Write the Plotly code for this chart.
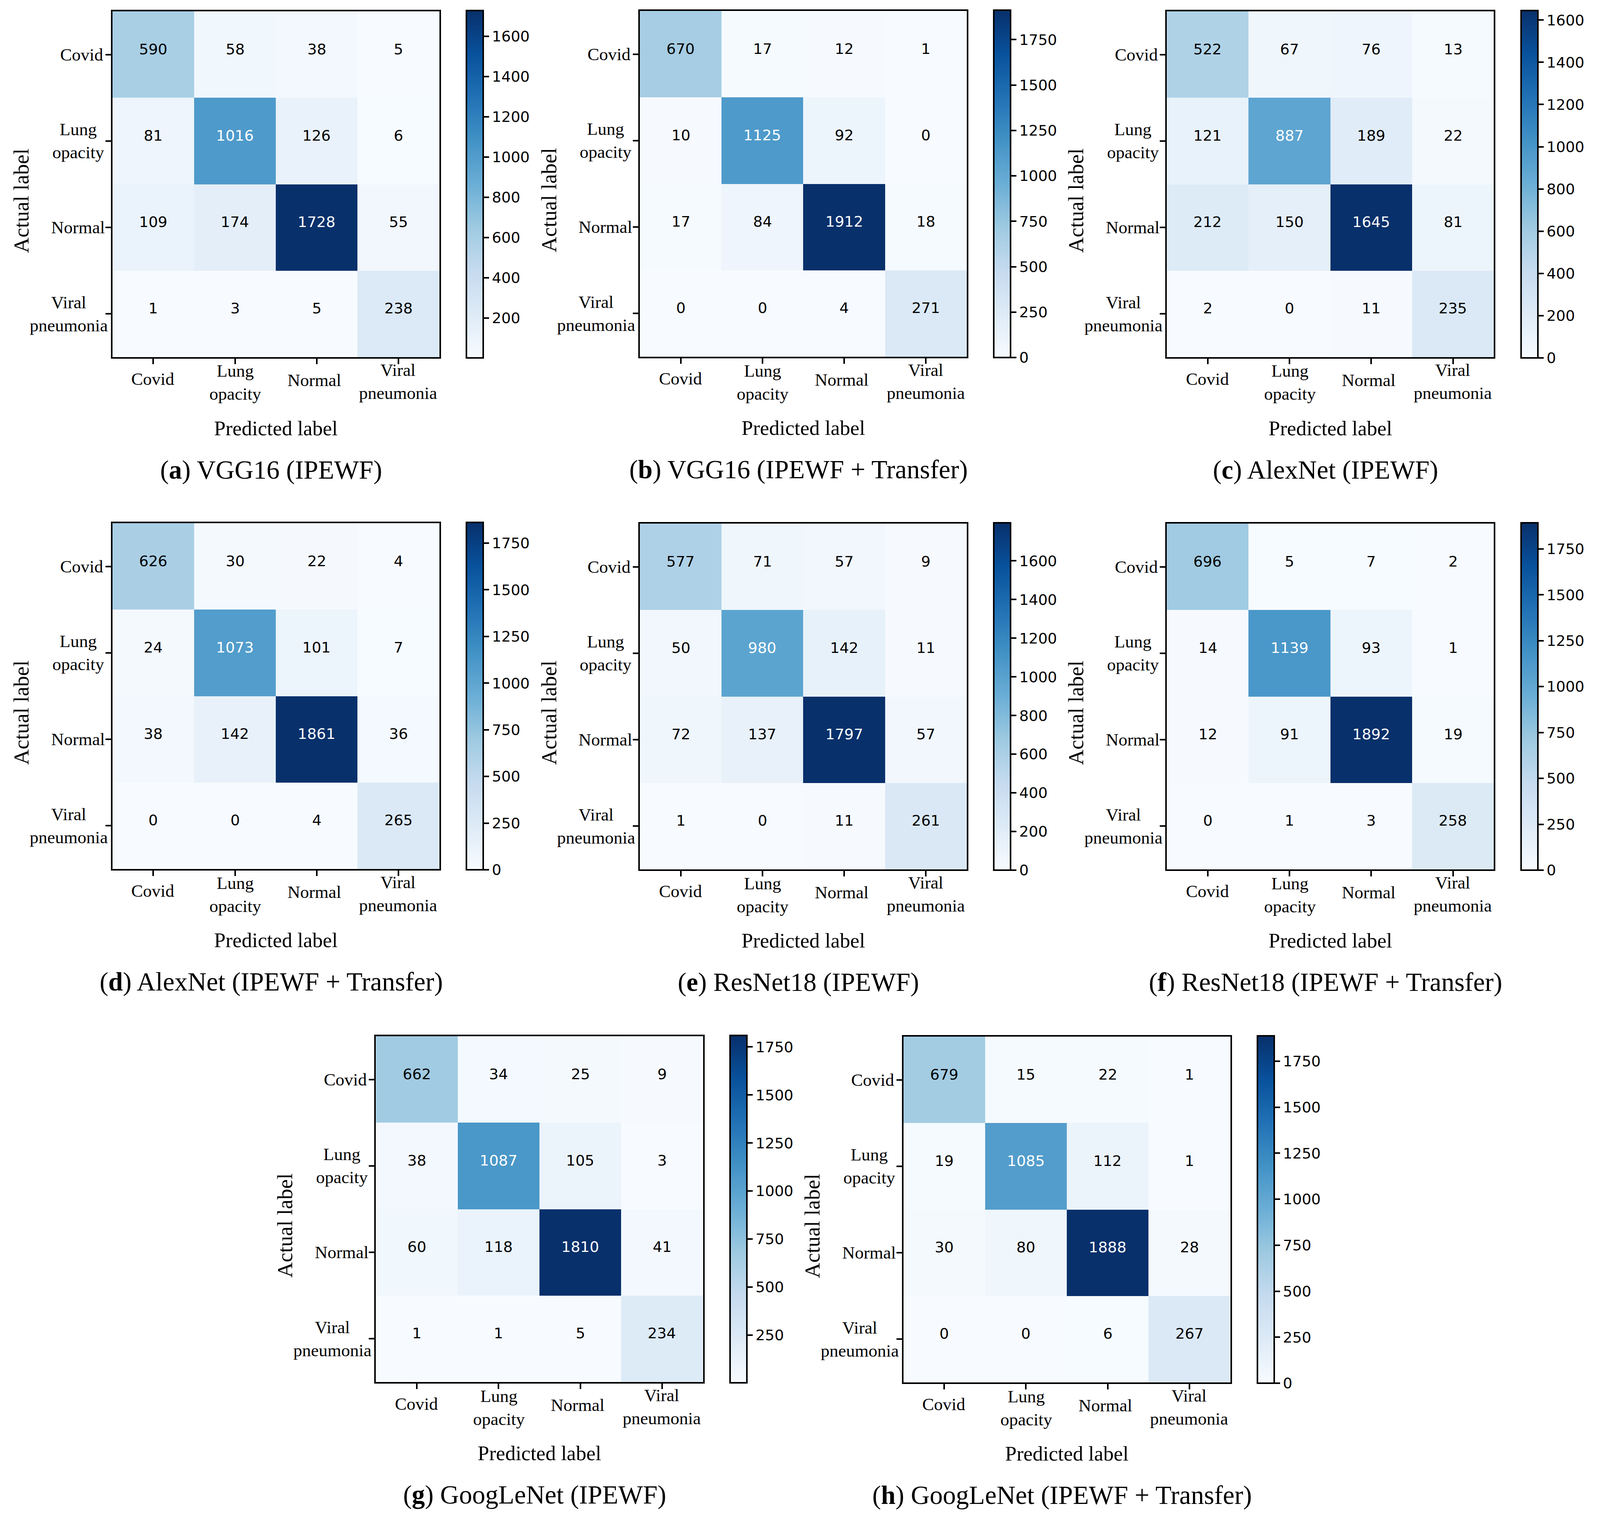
import plotly.graph_objects as go
import plotly.colors as pc

# confusion matrices, rows = actual, cols = predicted
vgg16 = [[590, 58, 38, 5], [81, 1016, 126, 6], [109, 174, 1728, 55], [1, 3, 5, 238]]
vgg16_tl = [[670, 17, 12, 1], [10, 1125, 92, 0], [17, 84, 1912, 18], [0, 0, 4, 271]]
alexnet = [[522, 67, 76, 13], [121, 887, 189, 22], [212, 150, 1645, 81], [2, 0, 11, 235]]
alexnet_tl = [[626, 30, 22, 4], [24, 1073, 101, 7], [38, 142, 1861, 36], [0, 0, 4, 265]]
resnet18 = [[577, 71, 57, 9], [50, 980, 142, 11], [72, 137, 1797, 57], [1, 0, 11, 261]]
resnet18_tl = [[696, 5, 7, 2], [14, 1139, 93, 1], [12, 91, 1892, 19], [0, 1, 3, 258]]
googlenet = [[662, 34, 25, 9], [38, 1087, 105, 3], [60, 118, 1810, 41], [1, 1, 5, 234]]
googlenet_tl = [[679, 15, 22, 1], [19, 1085, 112, 1], [30, 80, 1888, 28], [0, 0, 6, 267]]

matrices = [vgg16, vgg16_tl, alexnet, alexnet_tl, resnet18, resnet18_tl, googlenet, googlenet_tl]
captions = [
    "(<b>a</b>) VGG16 (IPEWF)",
    "(<b>b</b>) VGG16 (IPEWF + Transfer)",
    "(<b>c</b>) AlexNet (IPEWF)",
    "(<b>d</b>) AlexNet (IPEWF + Transfer)",
    "(<b>e</b>) ResNet18 (IPEWF)",
    "(<b>f</b>) ResNet18 (IPEWF + Transfer)",
    "(<b>g</b>) GoogLeNet (IPEWF)",
    "(<b>h</b>) GoogLeNet (IPEWF + Transfer)",
]
class_labels = ["Covid", "Lung<br>opacity", "Normal", "Viral<br>pneumonia"]
colorbar_steps = [200, 250, 200, 250, 200, 250, 250, 250]

# layout measured in reference pixels (4329 wide); the browser stops at 4096,
# so horizontal sizes go through XS
REF_W = 4329
W, H = 4096, 3885
XS = W / REF_W
SIZE = 889
left = [302, 1729, 3155, 302, 1729, 3155, 1015, 2442]
top = [27, 26, 27, 1337, 1338, 1338, 2650, 2651]
cbar_gap = 71
caption_dx = -13
caption_dy = 1175
xlabel_shift = [-1, 1, -7, -1]
xlabel_dy = [56, 65, 59, 63]
ylabel_dx = [-83, -92, -93, -118]

SERIF = "Liberation Serif"
SANS = "DejaVu Sans"

fig = go.Figure()
annotations = []
axes = {}

for n, z in enumerate(matrices):
    suffix = "" if n == 0 else str(n + 1)
    xname, yname = "x" + suffix, "y" + suffix
    flat = [v for row in z for v in row]
    zmin, zmax = min(flat), max(flat)

    fig.add_trace(go.Heatmap(
        z=z, x=[0, 1, 2, 3], y=[0, 1, 2, 3],
        xaxis=xname, yaxis=yname,
        zmin=zmin, zmax=zmax,
        colorscale=pc.sequential.Blues,
        colorbar=dict(
            x=(left[n] + SIZE + cbar_gap) / REF_W, xanchor="left", xpad=0,
            y=1 - top[n] / H, yanchor="top", ypad=0,
            len=SIZE / H, lenmode="fraction",
            thickness=45 * XS, outlinecolor="black", outlinewidth=4,
            ticks="outside", ticklen=14 * XS, tickwidth=4, tickcolor="black",
            tick0=0, dtick=colorbar_steps[n],
            tickfont=dict(family=SANS, size=38, color="black"),
        ),
    ))

    # axis lines are drawn just outside the domain, hence the 2px inset
    axes["xaxis" + suffix] = dict(
        domain=[(left[n] * XS + 2) / W, ((left[n] + SIZE) * XS - 2) / W],
        anchor=yname, range=[-0.5, 3.5],
        tickvals=[0, 1, 2, 3], showticklabels=False,
        ticks="outside", ticklen=14, tickwidth=4, tickcolor="black",
        showline=True, linewidth=4, linecolor="black", mirror=True,
        showgrid=False, zeroline=False,
        title=dict(text="Predicted label", standoff=147,
                   font=dict(family=SERIF, size=53, color="black")),
    )
    axes["yaxis" + suffix] = dict(
        domain=[1 - (top[n] + SIZE - 2) / H, 1 - (top[n] + 2) / H],
        anchor=xname, range=[3.5, -0.5],
        tickvals=[0, 1, 2, 3], showticklabels=False,
        ticks="outside", ticklen=14, tickwidth=4, tickcolor="black",
        showline=True, linewidth=4, linecolor="black", mirror=True,
        showgrid=False, zeroline=False,
    )

    # the y title sits lower than the axis middle, axis titles can't be moved
    annotations.append(dict(
        x=0, y=0.5, xref=xname + " domain", yref=yname + " domain",
        text="Actual label", textangle=-90, showarrow=False,
        xshift=-246 * XS, yshift=-42, xanchor="center", yanchor="middle",
        font=dict(family=SERIF, size=55, color="black"),
    ))

    # cell counts, sit a bit above the cell centre in the original
    middle = (zmin + zmax) / 2
    for r, row in enumerate(z):
        for c, value in enumerate(row):
            annotations.append(dict(
                x=c, y=r, xref=xname, yref=yname, text=str(value),
                showarrow=False, yshift=14,
                font=dict(family=SANS, size=38, color="white" if value > middle else "black"),
            ))

    # class names are centred blocks, so axis tick labels can't do it
    for i, label in enumerate(class_labels):
        annotations.append(dict(
            x=i, y=0, xref=xname, yref=yname + " domain", text=label,
            showarrow=False, xshift=xlabel_shift[i] * XS, yshift=-xlabel_dy[i],
            xanchor="center", yanchor="middle", align="center",
            font=dict(family=SERIF, size=45, color="black"),
        ))
        annotations.append(dict(
            x=0, y=i, xref=xname + " domain", yref=yname, text=label,
            showarrow=False, xshift=ylabel_dx[i] * XS,
            xanchor="center", yanchor="middle", align="center",
            font=dict(family=SERIF, size=45, color="black"),
        ))

    annotations.append(dict(
        x=(left[n] + SIZE / 2 + caption_dx) / REF_W, y=1 - (top[n] + caption_dy) / H,
        xref="paper", yref="paper", text=captions[n], showarrow=False,
        xanchor="center", yanchor="middle",
        font=dict(family=SERIF, size=67, color="black"),
    ))

fig.update_layout(
    width=W, height=H,
    margin=dict(l=0, r=0, t=0, b=0),
    paper_bgcolor="white", plot_bgcolor="white",
    annotations=annotations,
    **axes,
)

fig.write_html("out.html", config={"displayModeBar": False},
               post_script="document.body.style.margin='0';")
